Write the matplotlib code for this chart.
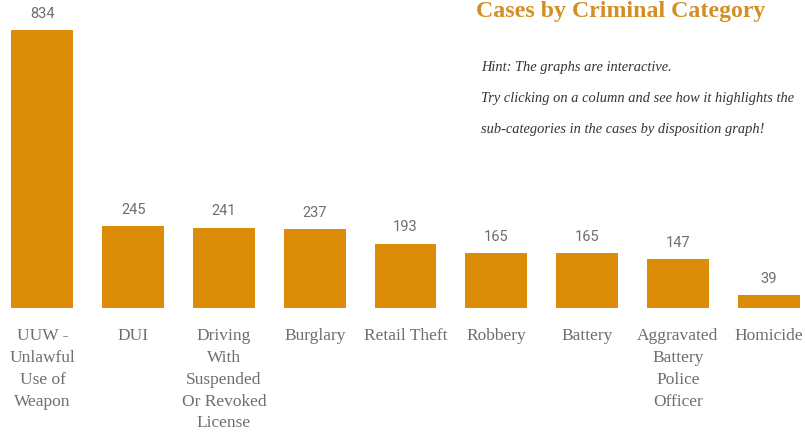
import matplotlib
matplotlib.use("Agg")
import matplotlib.pyplot as plt

categorias = ["UUW -\nUnlawful\nUse of\nWeapon", "DUI",
              "Driving\nWith\nSuspended\nOr Revoked\nLicense",
              "Burglary", "Retail Theft", "Robbery", "Battery",
              "Aggravated\nBattery\nPolice\nOfficer", "Homicide"]
casos = [834, 245, 241, 237, 193, 165, 165, 147, 39]

naranja = "#db8d0a"
gris = "#6e6e6e"

fig = plt.figure(figsize=(8.05, 4.35), dpi=100)
ax = fig.add_axes([0, 126 / 435, 1, 309 / 435])

x = list(range(len(casos)))
barras = ax.bar(x, casos, width=0.683, color=naranja)
ax.set_xlim(-0.468, 8.402)
ax.set_ylim(0, 927)

for b, v in zip(barras, casos):
    ax.annotate(str(v), (b.get_x() + b.get_width() / 2, v),
                xytext=(0, 7.5), textcoords="offset points",
                ha="center", va="bottom", fontsize=10.5,
                family="Roboto", color=gris)

ax.set_xticks(x)
ax.set_xticklabels(categorias, family="Liberation Serif", fontsize=12.5,
                   color=gris, linespacing=1.48)
ax.tick_params(axis="x", length=0, pad=14)
ax.set_yticks([])
for s in ax.spines.values():
    s.set_visible(False)

fig.text(476 / 805, 1 - 17 / 435, "Cases by Criminal Category",
         family="Liberation Serif", fontweight="bold", fontsize=17.2,
         color="#d28f24", ha="left", va="baseline")

pista = ["Hint: The graphs are interactive.",
         "Try clicking on a column and see how it highlights the",
         "sub-categories in the cases by disposition graph!"]
for i, linea in enumerate(pista):
    fig.text(481 / 805, 1 - (71 + 31 * i) / 435, linea,
             family="Liberation Serif", style="italic", fontsize=10.4,
             color="#333333", ha="left", va="baseline")

fig.savefig("out.png", dpi=100)
